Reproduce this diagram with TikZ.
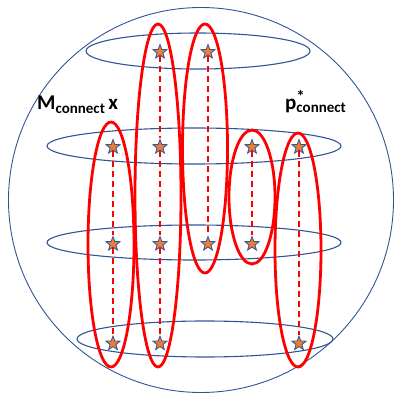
\documentclass[tikz,border=0pt]{standalone}
\usepackage{fontspec}
\setmainfont{Carlito}
\usetikzlibrary{shapes.geometric}
\definecolor{ringblue}{HTML}{2F5597}
\definecolor{starorange}{HTML}{ED7D31}
\tikzset{
  ring/.style={draw=ringblue, line width=1.1pt},
  loop/.style={draw=red, line width=2.8pt},
  link/.style={draw=red, line width=1.4pt, dash pattern=on 6pt off 4pt},
  pt/.style={star, star points=5, star point ratio=2.4, minimum size=15pt, inner sep=0pt,
    fill=starorange, draw=ringblue, line width=0.8pt},
  lbl/.style={inner sep=0pt, font=\bfseries\fontsize{21}{21}\selectfont}
}
\begin{document}
\begin{tikzpicture}[x=1pt,y=-1pt]
\useasboundingbox (0,0) rectangle (397,393);
% sphere
\draw[ring, line width=0.9pt] (201,200) circle [radius=192.5];
% horizontal rings
\draw[ring] (198,51) ellipse [x radius=112, y radius=18];
\draw[ring] (194,146) ellipse [x radius=147, y radius=18];
\draw[ring] (194,242.5) ellipse [x radius=147, y radius=17.5];
\draw[ring] (205,339) ellipse [x radius=128, y radius=18];
% red loops
\draw[loop] (111,244.5) ellipse [x radius=23, y radius=122.5];
\draw[loop] (158,195.5) ellipse [x radius=23, y radius=171.5];
\draw[loop] (205,148.5) ellipse [x radius=22.5, y radius=124.5];
\draw[loop] (252,197) ellipse [x radius=23, y radius=67];
\draw[loop] (298,250) ellipse [x radius=23, y radius=117];
% stars
\node[pt] (a2) at (113,147) {};
\node[pt] (a3) at (113,244) {};
\node[pt] (a4) at (113,343.5) {};
\node[pt] (b1) at (160,52) {};
\node[pt] (b2) at (160,147) {};
\node[pt] (b3) at (160,244) {};
\node[pt] (b4) at (160,343.5) {};
\node[pt] (c1) at (208,52) {};
\node[pt] (c3) at (208,244) {};
\node[pt] (d2) at (252,147) {};
\node[pt] (d3) at (252,244) {};
\node[pt] (e2) at (299,147) {};
\node[pt] (e4) at (299,343.5) {};
% dashed links
\draw[link] (a2) -- (a3); \draw[link] (a3) -- (a4);
\draw[link] (b1) -- (b2); \draw[link] (b2) -- (b3); \draw[link] (b3) -- (b4);
\draw[link] (c1) -- (c3);
\draw[link] (d2) -- (d3);
\draw[link] (e2) -- (e4);
% labels
\node[lbl, anchor=base west] (m) at (37,110) {M\raisebox{-4pt}{\fontsize{15}{15}\selectfont connect}\,x};
\node[lbl, anchor=base west] (p) at (285,110) {p\rlap{\raisebox{7pt}{\fontsize{17}{17}\selectfont *}}\raisebox{-3pt}{\fontsize{15}{15}\selectfont connect}};
\end{tikzpicture}
\end{document}
